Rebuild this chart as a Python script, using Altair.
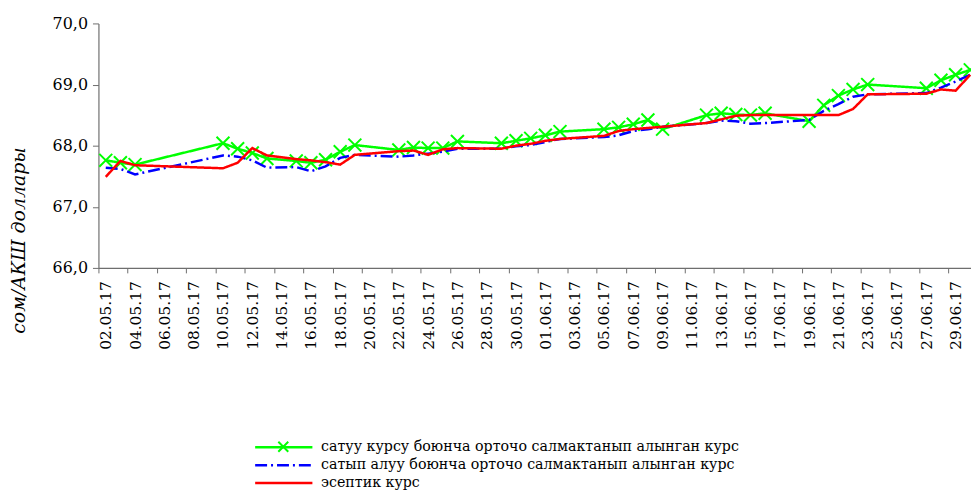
import altair as alt
import pandas as pd

# every calendar day shown on the category axis
AXIS_LABELS = [
    "02.05.17", "03.05.17", "04.05.17", "05.05.17", "06.05.17", "07.05.17", "08.05.17",
    "09.05.17", "10.05.17", "11.05.17", "12.05.17", "13.05.17", "14.05.17", "15.05.17",
    "16.05.17", "17.05.17", "18.05.17", "19.05.17", "20.05.17", "21.05.17", "22.05.17",
    "23.05.17", "24.05.17", "25.05.17", "26.05.17", "27.05.17", "28.05.17", "29.05.17",
    "30.05.17", "31.05.17", "01.06.17", "02.06.17", "03.06.17", "04.06.17", "05.06.17",
    "06.06.17", "07.06.17", "08.06.17", "09.06.17", "10.06.17", "11.06.17", "12.06.17",
    "13.06.17", "14.06.17", "15.06.17", "16.06.17", "17.06.17", "18.06.17", "19.06.17",
    "20.06.17", "21.06.17", "22.06.17", "23.06.17", "24.06.17", "25.06.17", "26.06.17",
    "27.06.17", "28.06.17", "29.06.17", "30.06.17",
]

# trading days with quotes
DATES = [
    "02.05.17", "03.05.17", "04.05.17", "10.05.17", "11.05.17", "12.05.17", "13.05.17",
    "15.05.17", "16.05.17", "17.05.17", "18.05.17", "19.05.17",
    "22.05.17", "23.05.17", "24.05.17", "25.05.17", "26.05.17",
    "29.05.17", "30.05.17", "31.05.17", "01.06.17", "02.06.17",
    "05.06.17", "06.06.17", "07.06.17", "08.06.17", "09.06.17",
    "12.06.17", "13.06.17", "14.06.17", "15.06.17", "16.06.17",
    "19.06.17", "20.06.17", "21.06.17", "22.06.17", "23.06.17",
    "27.06.17", "28.06.17", "29.06.17", "30.06.17",
]

SELL = [
    67.76, 67.72, 67.69, 68.04, 67.95, 67.88, 67.79,
    67.75, 67.72, 67.77, 67.90, 68.01,
    67.93, 67.97, 67.96, 67.96, 68.07,
    68.04, 68.08, 68.12, 68.17, 68.23,
    68.27, 68.30, 68.35, 68.42, 68.27,
    68.50, 68.53, 68.51, 68.50, 68.53,
    68.40, 68.66, 68.82, 68.92, 69.00,
    68.94, 69.07, 69.16, 69.24,
]

BUY = [
    67.64, 67.62, 67.53, 67.84, 67.82, 67.76, 67.64,
    67.65, 67.58, 67.66, 67.80, 67.85,
    67.82, 67.84, 67.87, 67.90, 67.95,
    67.95, 67.99, 68.01, 68.06, 68.11,
    68.14, 68.17, 68.24, 68.27, 68.31,
    68.37, 68.41, 68.40, 68.36, 68.37,
    68.42, 68.57, 68.68, 68.80, 68.84,
    68.86, 68.95, 69.05, 69.16,
]

OFFICIAL = [
    67.49, 67.75, 67.68, 67.63, 67.72, 67.96, 67.84,
    67.78, 67.76, 67.73, 67.69, 67.85,
    67.91, 67.92, 67.85, 67.94, 67.96,
    67.95, 68.00, 68.03, 68.08, 68.11,
    68.16, 68.24, 68.27, 68.29, 68.31,
    68.37, 68.43, 68.49, 68.50, 68.50,
    68.50, 68.50, 68.50, 68.60, 68.84,
    68.85, 68.92, 68.90, 69.16,
]

S_SELL = "сатуу курсу боюнча орточо салмактанып алынган курс"
S_BUY = "сатып алуу боюнча орточо салмактанып алынган курс"
S_OFF = "эсептик курс"
SERIES = [S_SELL, S_BUY, S_OFF]
COLORS = ["#00ff00", "#0000ff", "#ff0000"]
DASHES = [[1, 0], [12, 4, 2, 4], [1, 0]]

Y_TICKS = [66, 67, 68, 69, 70]

FONT = "DejaVu Serif"

idx = {lab: i for i, lab in enumerate(AXIS_LABELS)}
rows = []
for name, vals in zip(SERIES, [SELL, BUY, OFFICIAL]):
    for dt, v in zip(DATES, vals):
        rows.append({"d": idx[dt], "date": dt, "series": name, "value": v, "mk": "x"})
df = pd.DataFrame(rows)

W = 878
H = 246
X_DOMAIN = [-0.5, 59.05]
HALF = W / (X_DOMAIN[1] - X_DOMAIN[0]) / 2.0

label_array = "[" + ",".join("'" + s + "'" for s in AXIS_LABELS) + "]"

x_enc = alt.X(
    "d:Q",
    scale=alt.Scale(domain=X_DOMAIN, nice=False, zero=False),
    axis=alt.Axis(
        title=None,
        values=list(range(0, 60, 2)),
        labelExpr=label_array + "[datum.value]",
        labelAngle=270,
        labelAlign="right",
        labelBaseline="middle",
        tickOffset=-HALF,
        labelOffset=HALF,
        tickSize=5,
        labelPadding=8,
        labelFont=FONT,
        labelFontSize=15.5,
        labelColor="black",
        domainColor="#6e6e6e",
        tickColor="#6e6e6e",
        domainWidth=1.2,
        grid=False,
        labelOverlap=False,
    ),
)

y_enc = alt.Y(
    "value:Q",
    scale=alt.Scale(domain=[66, 70], nice=False, zero=False),
    axis=alt.Axis(
        title="сом/АКШ доллары",
        titleFont=FONT,
        titleFontSize=19,
        titleFontStyle="italic",
        titleFontWeight="normal",
        titleColor="black",
        titleAngle=270,
        titleAlign="center",
        titleBaseline="middle",
        titleX=-80,
        titleY=218,
        values=Y_TICKS,
        labelExpr="replace(format(datum.value, '.1f'), '.', ',')",
        labelFont=FONT,
        labelFontSize=16,
        labelColor="black",
        tickSize=6,
        labelPadding=5,
        domainColor="#6e6e6e",
        tickColor="#6e6e6e",
        domainWidth=1.2,
        grid=False,
    ),
)

LEG = alt.Legend(
    title=None,
    orient="none",
    legendX=177,
    legendY=417,
    direction="vertical",
    symbolType="M-3.6,0L3.6,0",
    symbolSize=256,
    symbolStrokeWidth=2.5,
    labelOffset=28,
    labelFont=FONT,
    labelFontSize=14.3,
    labelColor="black",
    labelLimit=700,
    rowPadding=1,
)

lines = alt.Chart(df).mark_line(strokeWidth=2.5).encode(
    x=x_enc,
    y=y_enc,
    color=alt.Color("series:N", scale=alt.Scale(domain=SERIES, range=COLORS), legend=LEG),
    strokeDash=alt.StrokeDash("series:N", scale=alt.Scale(domain=SERIES, range=DASHES), legend=LEG),
    detail="series:N",
)

XPATH = "M-1,-1L1,1M-1,1L1,-1"

markers = alt.Chart(df[df["series"] == S_SELL]).mark_point(
    filled=False, strokeWidth=2, size=169, color="#00ff00", opacity=1
).encode(
    x=x_enc,
    y=y_enc,
    shape=alt.Shape(
        "mk:N",
        scale=alt.Scale(domain=["x"], range=[XPATH]),
        legend=alt.Legend(
            title=None,
            orient="none",
            legendX=180,
            legendY=420,
            labelExpr="''",
            symbolSize=100,
            symbolStrokeColor="#00ff00",
            symbolStrokeWidth=2,
        ),
    ),
)

chart = (
    alt.layer(markers, lines)
    .properties(
        width=W,
        height=H,
        autosize=alt.AutoSizeParams(type="none"),
        padding={"left": 91, "top": 14, "right": 0, "bottom": 229},
    )
    .configure_view(stroke=None)
)

chart.save("out.html", embed_options={"renderer": "svg", "actions": False})
